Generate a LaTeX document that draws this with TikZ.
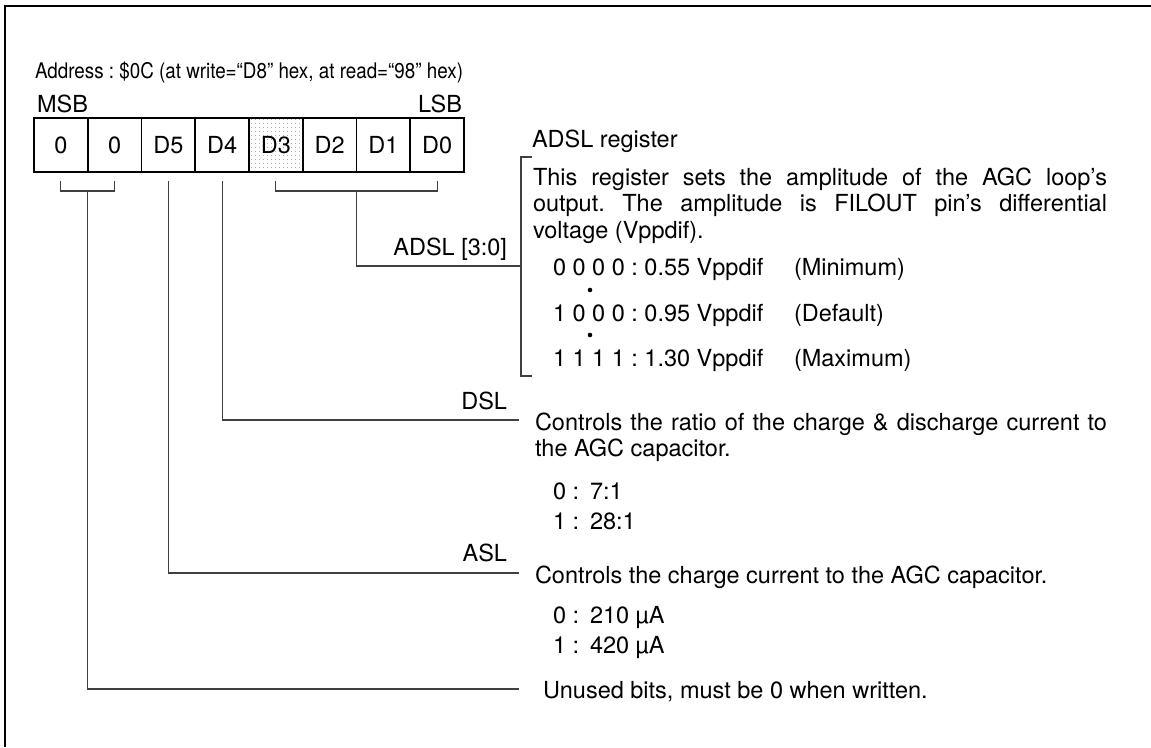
\documentclass[tikz,border=0pt]{standalone}
\usepackage{fontspec}
\setmainfont{TeX Gyre Heros}
\usepackage{graphicx}
\usetikzlibrary{calc,patterns.meta}
\frenchspacing
\begin{document}
\begin{tikzpicture}[x=1pt,y=-1pt,
  txt/.style={font=\fontsize{23.5}{28}\selectfont\frenchspacing, inner sep=0pt, outer sep=0pt},
  conn/.style={draw=black!75, line width=1.1pt},
  cellbox/.style={draw, line width=1.6pt, minimum width=53.75pt, minimum height=54pt,
    inner sep=0pt, outer sep=0pt, anchor=north west, txt},
  lbl/.style={txt, anchor=base east},
  desc/.style={txt, anchor=base west}]
\useasboundingbox (0,0) rectangle (1151,747);
% frame
\draw[line width=2.2pt] (5,747) -- (5,6) -- (1151,6);
% title
\node[desc, font=\fontsize{21.5}{26}\selectfont] (addr) at (35,78) {\resizebox{428pt}{\height}{Address : \$0C (at write=“D8” hex, at read=“98” hex)}};
\node[desc] (msb) at (37,112) {MSB};
\node[lbl] (lsb) at (462,112) {LSB};
% register cells
\node[cellbox] (c7) at (34,118) {0};
\node[cellbox] (c6) at (87.75,118) {0};
\node[cellbox] (c5) at (141.5,118) {D5};
\node[cellbox] (c4) at (195.25,118) {D4};
\node[cellbox, pattern={Dots[radius=0.55pt,distance=4pt]}, pattern color=black!55] (c3) at (249,118) {D3};
\node[cellbox] (c2) at (302.75,118) {D2};
\node[cellbox] (c1) at (356.5,118) {D1};
\node[cellbox] (c0) at (410.25,118) {D0};
\draw[line width=2.8pt] (c7.north west) rectangle (c0.south east);
% brackets under bits
\draw[conn] ($(c7.south)+(0,9)$) |- ($(c6.south)+(0,19)$) -- ($(c6.south)+(0,9)$);
\draw[conn] ($(c3.south)+(0,9)$) |- ($(c0.south)+(0,19)$) -- ($(c0.south)+(0,9)$);
\coordinate (s76) at ($(c7.south)!.5!(c6.south)+(0,19)$);
\coordinate (s30) at ($(c3.south)!.5!(c0.south)+(0,19)$);
% ADSL block
\node[desc] (adslreg) at (532,147) {ADSL register};
\coordinate (bt) at (532,157);
\coordinate (bb) at (532,376);
\draw[conn] (bt) -- ++(-11,0) |- (bb);
\coordinate (j30) at (521,266);
\draw[conn] (s30) |- (j30);
\node[lbl] (adsl) at (507,255) {ADSL [3:0]};
\node[desc] (p1) at (533,185) {\makebox[574pt][s]{This register sets the amplitude of the AGC loop’s}};
\node[desc] (p2) at (533,211) {\makebox[574pt][s]{output. The amplitude is FILOUT pin’s differential}};
\node[desc] (p3) at (533,238) {voltage (Vppdif).};
\node[desc] (v1) at (553,275) {0 0 0 0 : 0.55 Vppdif};
\node[desc] (m1) at (794,275) {(Minimum)};
\fill (590,290) circle (2.3pt);
\node[desc] (v2) at (553,321) {1 0 0 0 : 0.95 Vppdif};
\node[desc] (m2) at (794,321) {(Default)};
\fill (590,335) circle (2.3pt);
\node[desc] (v3) at (553,366) {1 1 1 1 : 1.30 Vppdif};
\node[desc] (m3) at (794,366) {(Maximum)};
% DSL block
\coordinate (j4) at (519,420);
\draw[conn] ($(c4.south)+(0,9)$) |- (j4);
\node[lbl] (dsl) at (507,409) {DSL};
\node[desc] (d1) at (535,430) {\makebox[572pt][s]{Controls the ratio of the charge \& discharge current to}};
\node[desc] (d2) at (535,456) {the AGC capacitor.};
\node[desc] (d3k) at (553,499) {0 :};
\node[desc] (d3v) at (590,499) {7:1};
\node[desc] (d4k) at (553,529) {1 :};
\node[desc] (d4v) at (590,529) {28:1};
% ASL block
\coordinate (j5) at (519,573);
\draw[conn] ($(c5.south)+(0,9)$) |- (j5);
\node[lbl] (asl) at (507,561) {ASL};
\node[desc] (a1) at (535,583) {Controls the charge current to the AGC capacitor.};
\node[desc] (a2k) at (553,623) {0 :};
\node[desc] (a2v) at (590,623) {210 µA};
\node[desc] (a3k) at (553,653) {1 :};
\node[desc] (a3v) at (590,653) {420 µA};
% unused bits
\coordinate (j76) at (519,689);
\draw[conn] (s76) |- (j76);
\node[desc] (unused) at (543,698) {Unused bits, must be 0 when written.};
\end{tikzpicture}
\end{document}
